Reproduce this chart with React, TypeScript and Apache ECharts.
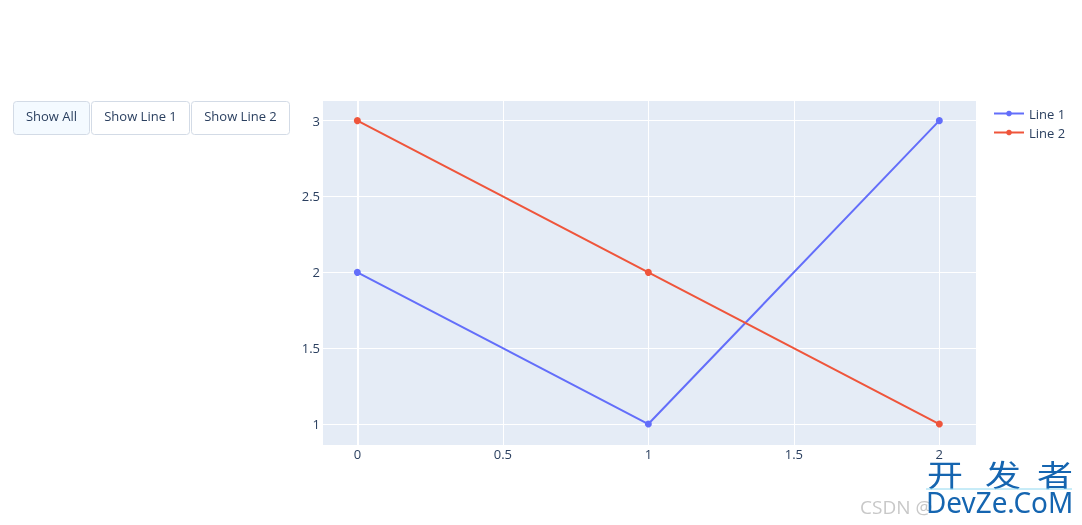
import React, { useEffect, useRef } from "react";
import * as echarts from "echarts";

const xValues = [0, 1, 2];
const line1Values = [2, 1, 3];
const line2Values = [3, 2, 1];
const seriesNames = ["Line 1", "Line 2"];
const buttonLabels = ["Show All", "Show Line 1", "Show Line 2"];
const watermarkChars = ["开", "发", "者"];

const FONT = '"Open Sans", verdana, arial, sans-serif';
const TEXT = "#2a3f5f";

export default function App() {
  const ref = useRef<HTMLDivElement>(null);
  useEffect(() => {
    document.body.style.margin = "0";
    const chart = echarts.init(ref.current!, null, { renderer: "svg" });
    const buttonX = [13, 91, 191];
    const buttonW = [76, 98, 98];
    const buttons = buttonLabels.map((label, i) => ({
      type: "group",
      left: buttonX[i],
      top: 101,
      children: [
        {
          type: "rect",
          shape: { x: 0, y: 0, width: buttonW[i], height: 33, r: 3 },
          style: { fill: i === 0 ? "#F4FAFF" : "#ffffff", stroke: "#D3DBE6", lineWidth: 1 },
        },
        {
          type: "text",
          x: buttonW[i] / 2,
          y: 14,
          style: {
            text: label,
            fill: TEXT,
            font: `13px ${FONT}`,
            align: "center",
            verticalAlign: "middle",
          },
        },
      ],
    }));
    const charX = [927, 985, 1037];
    const wmChars = watermarkChars.map((c, i) => ({
      type: "text",
      x: charX[i],
      y: 458,
      scaleX: 1.2,
      z: 11,
      style: {
        text: c,
        fill: "#1565B0",
        font: `30px "Noto Sans CJK SC", sans-serif`,
      },
    }));
    chart.setOption({
      animation: false,
      textStyle: { fontFamily: FONT },
      grid: {
        left: 322,
        top: 100,
        width: 654,
        height: 345,
        show: true,
        backgroundColor: "#E5ECF6",
        borderWidth: 0,
        containLabel: false,
      },
      legend: {
        data: seriesNames,
        orient: "vertical",
        left: 993,
        top: 107,
        padding: 0,
        itemWidth: 30,
        itemHeight: 7,
        itemGap: 6,
        itemTextGap: 5,
        textStyle: { color: TEXT, fontSize: 13, fontFamily: FONT },
      },
      xAxis: {
        type: "value",
        min: -0.1215,
        max: 2.126,
        axisLine: { show: false },
        axisTick: { show: false },
        splitLine: { lineStyle: { color: "#ffffff", width: 1 } },
        axisLabel: {
          color: TEXT,
          fontSize: 13,
          fontFamily: FONT,
          margin: 2,
          showMinLabel: false,
          showMaxLabel: false,
        },
      },
      yAxis: {
        type: "value",
        min: 0.862,
        max: 3.136,
        axisLine: { show: false },
        axisTick: { show: false },
        splitLine: { lineStyle: { color: "#ffffff", width: 1 } },
        axisLabel: {
          color: TEXT,
          fontSize: 13,
          fontFamily: FONT,
          margin: 2,
          showMinLabel: false,
          showMaxLabel: false,
        },
      },
      series: [
        {
          name: "zero",
          type: "line",
          data: [],
          z: 1,
          silent: true,
          markLine: {
            z: 1,
            silent: true,
            symbol: "none",
            label: { show: false },
            lineStyle: { color: "#ffffff", width: 2, type: "solid" },
            data: [{ xAxis: 0 }],
          },
        },
        {
          name: seriesNames[0],
          type: "line",
          data: xValues.map((x, i) => [x, line1Values[i]]),
          symbol: "circle",
          symbolSize: 7,
          clip: false,
          z: 3,
          lineStyle: { color: "#636efa", width: 2 },
          itemStyle: { color: "#636efa" },
        },
        {
          name: seriesNames[1],
          type: "line",
          data: xValues.map((x, i) => [x, line2Values[i]]),
          symbol: "circle",
          symbolSize: 7,
          clip: false,
          z: 3,
          lineStyle: { color: "#EF553B", width: 2 },
          itemStyle: { color: "#EF553B" },
        },
      ],
      graphic: [
        ...buttons,
        {
          type: "text",
          left: 860,
          top: 497,
          z: 10,
          style: { text: "CSDN @", fill: "#c8c8c8", font: `19px ${FONT}` },
        },
        ...wmChars,
        {
          type: "line",
          z: 11,
          shape: { x1: 926, y1: 489, x2: 1072, y2: 489 },
          style: { stroke: "#8fd8f0", lineWidth: 1 },
        },
        {
          type: "text",
          x: 926,
          y: 486,
          scaleX: 0.93,
          z: 11,
          style: {
            text: "DevZe.CoM",
            fill: "#1565B0",
            font: `30px "Noto Sans", sans-serif`,
          },
        },
      ],
    });
    return () => chart.dispose();
  }, []);
  return (
    <div
      ref={ref}
      style={{ position: "fixed", left: 0, top: 0, width: 1082, height: 525 }}
    />
  );
}
